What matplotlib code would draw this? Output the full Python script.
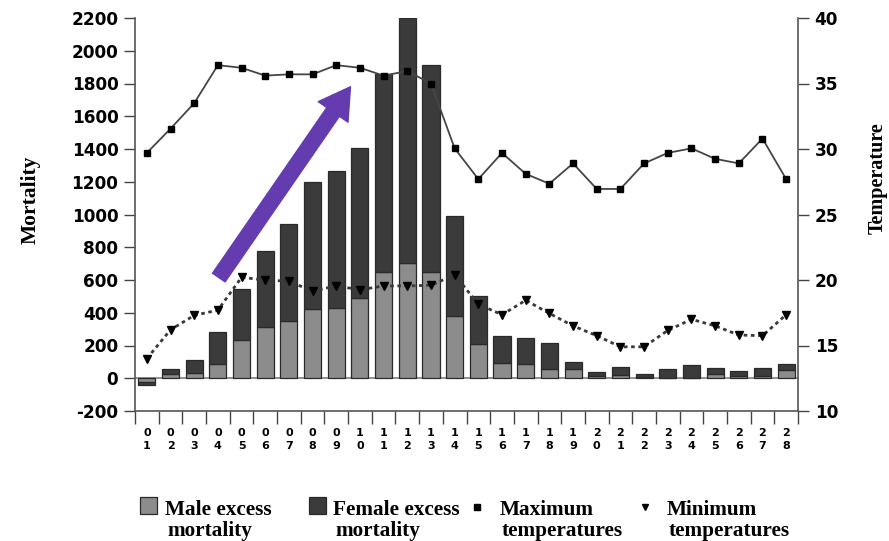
import matplotlib
matplotlib.use("Agg")
import matplotlib.pyplot as plt
from matplotlib.patches import Rectangle
from matplotlib.lines import Line2D
import numpy as np

plt.rcParams["axes.unicode_minus"] = False

weeks = ["01", "02", "03", "04", "05", "06", "07", "08", "09", "10", "11", "12", "13", "14",
         "15", "16", "17", "18", "19", "20", "21", "22", "23", "24", "25", "26", "27", "28"]
total_excess = [-40, 55, 110, 280, 545, 780, 940, 1200, 1265, 1405, 1855, 2200, 1910, 988,
                502, 258, 244, 215, 99, 37, 71, 28, 57, 79, 65, 43, 65, 87]
male_excess = [-25, 25, 35, 90, 234, 313, 349, 420, 428, 489, 650, 705, 650, 380,
               207, 96, 85, 55, 55, 14, 20, 8, 3, 3, 27, 14, 14, 49]
female_excess = [t - m for t, m in zip(total_excess, male_excess)]
max_temp = [29.7, 31.55, 33.5, 36.4, 36.2, 35.6, 35.7, 35.7, 36.4, 36.2, 35.6, 35.95, 35.0, 30.05,
            27.7, 29.7, 28.1, 27.35, 28.9, 26.95, 26.95, 28.9, 29.7, 30.05, 29.25, 28.9, 30.8, 27.7]
min_temp = [14.0, 16.2, 17.3, 17.7, 20.2, 20.0, 19.9, 19.15, 19.55, 19.25, 19.55, 19.55, 19.6, 20.4,
            18.15, 17.35, 18.45, 17.45, 16.5, 15.75, 14.9, 14.9, 16.15, 17.0, 16.5, 15.8, 15.75, 17.35]
legend_labels = [("Male excess", "mortality"), ("Female excess", "mortality"),
                 ("Maximum", "temperatures"), ("Minimum", "temperatures")]

x = np.arange(len(weeks))
W, H = 889, 541

fig = plt.figure(figsize=(8.89, 5.41), dpi=100)
ax = fig.add_axes([135 / W, 1 - 411 / H, 663 / W, 393 / H])
ax2 = ax.twinx()

male_c = "#8c8c8c"
female_c = "#3b3b3b"
edge_c = "#2a2a2a"

ax.axhline(0, color="#8a8a8a", lw=1.3, zorder=1)
ax.bar(x, male_excess, width=0.72, color=male_c, edgecolor=edge_c, linewidth=0.9, zorder=2)
ax.bar(x, female_excess, width=0.72, bottom=male_excess, color=female_c, edgecolor=edge_c,
       linewidth=0.9, zorder=2)

ax.set_xlim(-0.5, len(weeks) - 0.5)
ax.set_ylim(-200, 2200)
ax.set_yticks(np.arange(-200, 2201, 200))
ax.set_xticks(np.arange(-0.5, len(weeks) - 0.4, 1.0))
ax.set_xticklabels([])
ax.set_xticks(x, minor=True)
ax.set_xticklabels([w[0] + "\n" + w[1] for w in weeks], minor=True,
                   fontsize=8, fontweight="bold", linespacing=1.4)
ax.tick_params(axis="x", which="minor", length=0, pad=12)
ax.tick_params(axis="x", which="major", length=9, width=1.0, color="#444444")
ax.tick_params(axis="y", length=8, width=1.0, color="#444444", labelsize=12.2, pad=4)
for lab in ax.get_yticklabels():
    lab.set_fontweight("bold")

ax.spines["top"].set_visible(False)
ax2.spines["top"].set_visible(False)
for s in ["left", "bottom"]:
    ax.spines[s].set_color("#555555")
    ax.spines[s].set_linewidth(1.2)
ax2.spines["right"].set_color("#555555")
ax2.spines["right"].set_linewidth(1.2)
ax2.spines["left"].set_visible(False)
ax2.spines["bottom"].set_visible(False)
ax.spines["right"].set_visible(False)

ax2.set_ylim(10, 40)
ax2.set_yticks(np.arange(10, 41, 5))
ax2.tick_params(axis="y", length=8, width=1.0, color="#444444", labelsize=12.2, pad=4)
for lab in ax2.get_yticklabels():
    lab.set_fontweight("bold")

ax2.plot(x, max_temp, color="#454545", lw=1.3, marker="s", markersize=4.2,
         markerfacecolor="black", markeredgecolor="black", zorder=3)
ax2.plot(x, min_temp, color="#3a3a3a", lw=2.0, linestyle=(0, (1.3, 1.3)), marker="v",
         markersize=5.5, markerfacecolor="black", markeredgecolor="black", zorder=3)

ax2.annotate("", xy=(8.6, 1780), xytext=(3.04, 615),
             xycoords=ax.transData, textcoords=ax.transData,
             arrowprops=dict(arrowstyle="simple,head_length=2.2,head_width=2.6,tail_width=1.1",
                             mutation_scale=10, color="#643cb0", shrinkA=0, shrinkB=0),
             zorder=5)

fig.text(0.034, 0.63, "Mortality", rotation=90, ha="center", va="center",
         family="Liberation Serif", fontsize=15.5, fontweight="bold")
fig.text(0.987, 0.671, "Temperature", rotation=90, ha="center", va="center",
         family="Liberation Serif", fontsize=14.5, fontweight="bold")

# legend (manually laid out below the axes)
leg_font = dict(family="Liberation Serif", fontweight="bold", fontsize=15.3)
key_x = [140, 309, 477, 645]
text_x = [165, 333, 500, 667]
fig.add_artist(Rectangle((key_x[0] / W, 1 - 514 / H), 17 / W, 17 / H, transform=fig.transFigure,
                         facecolor=male_c, edgecolor=edge_c, linewidth=0.9))
fig.add_artist(Rectangle((key_x[1] / W, 1 - 514 / H), 17 / W, 17 / H, transform=fig.transFigure,
                         facecolor=female_c, edgecolor=edge_c, linewidth=0.9))
fig.add_artist(Line2D([key_x[2] / W], [1 - 507 / H], transform=fig.transFigure, linestyle="none",
                      marker="s", markersize=4, color="black"))
fig.add_artist(Line2D([key_x[3] / W], [1 - 507 / H], transform=fig.transFigure, linestyle="none",
                      marker="v", markersize=5, color="black"))
for (l1, l2), tx in zip(legend_labels, text_x):
    fig.text(tx / W, 1 - 515 / H, l1, ha="left", va="baseline", **leg_font)
    fig.text((tx + 2) / W, 1 - 536 / H, l2, ha="left", va="baseline", **leg_font)

fig.savefig("out.png", dpi=100)
